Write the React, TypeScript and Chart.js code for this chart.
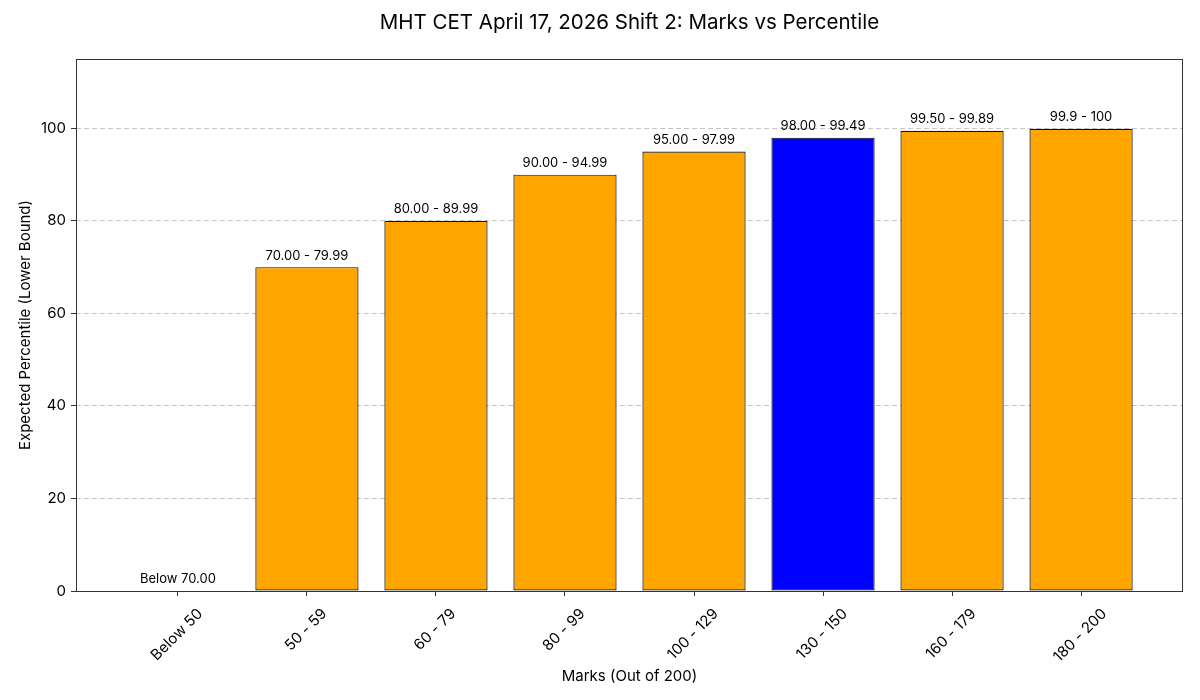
import { useEffect, useRef } from 'react';
import { Chart, registerables } from 'chart.js';

Chart.register(...registerables);

const categories = ['Below 50', '50 - 59', '60 - 79', '80 - 99', '100 - 129', '130 - 150', '160 - 179', '180 - 200'];
const percentiles = [0, 70, 80, 90, 95, 98, 99.5, 99.9];
const rangeLabels = [
  'Below 70.00',
  '70.00 - 79.99',
  '80.00 - 89.99',
  '90.00 - 94.99',
  '95.00 - 97.99',
  '98.00 - 99.49',
  '99.50 - 99.89',
  '99.9 - 100',
];
const highlightIndex = 5;
const yTicks = [0, 20, 40, 60, 80, 100];

const FONT = 'Inter, "Noto Sans", sans-serif';
const TITLE = 'MHT CET April 17, 2026 Shift 2: Marks vs Percentile';

const overlayPlugin = {
  id: 'overlay',
  afterDraw(chart: any) {
    const { ctx, chartArea } = chart;
    const xScale = chart.scales.x;
    const { left, right, top, bottom } = chartArea;
    ctx.save();

    // frame
    ctx.strokeStyle = '#333';
    ctx.lineWidth = 1;
    ctx.strokeRect(left + 0.5, top + 0.5, right - left - 1, bottom - top);

    // value labels above bars
    const meta = chart.getDatasetMeta(0);
    ctx.fillStyle = '#000';
    ctx.font = `13px ${FONT}`;
    ctx.textAlign = 'center';
    ctx.textBaseline = 'bottom';
    meta.data.forEach((el: any, i: number) => {
      ctx.fillText(rangeLabels[i], el.x, el.y - 5);
    });

    // rotated x tick labels, centred on tick like matplotlib
    ctx.font = `15px ${FONT}`;
    ctx.textBaseline = 'middle';
    categories.forEach((label, i) => {
      const px = xScale.getPixelForValue(i);
      const w = ctx.measureText(label).width;
      const h = 15;
      const boxH = (w + h) * Math.SQRT1_2;
      ctx.save();
      ctx.translate(px - 1, bottom + 15 + boxH / 2);
      ctx.rotate(-Math.PI / 4);
      ctx.fillText(label, 0, 0);
      ctx.restore();
    });

    // title and axis titles
    ctx.font = `20.5px ${FONT}`;
    ctx.fillText(TITLE, (left + right) / 2, 23);
    ctx.font = `15px ${FONT}`;
    ctx.fillText('Marks (Out of 200)', (left + right) / 2, 676);
    ctx.save();
    ctx.translate(25, (top + bottom) / 2);
    ctx.rotate(-Math.PI / 2);
    ctx.fillText('Expected Percentile (Lower Bound)', 0, 0);
    ctx.restore();

    ctx.restore();
  },
};

const App: React.FC = () => {
  const canvasRef = useRef<HTMLCanvasElement | null>(null);

  useEffect(() => {
    const canvas = canvasRef.current;
    if (!canvas) return;

    const chart = new Chart(canvas, {
      type: 'bar',
      data: {
        datasets: [
          {
            data: percentiles.map((v, i) => ({ x: i, y: v })),
            backgroundColor: percentiles.map((_, i) => (i === highlightIndex ? '#0000ff' : '#ffa500')),
            borderColor: '#111',
            borderWidth: 1.2,
            borderSkipped: false,
            barPercentage: 0.8,
            categoryPercentage: 1,
          },
        ],
      },
      options: {
        responsive: false,
        animation: false,
        layout: { padding: { top: 59, right: 17, left: 0, bottom: 0 } },
        plugins: {
          legend: { display: false },
          title: { display: false },
          tooltip: { enabled: false },
        },
        scales: {
          x: {
            type: 'linear',
            offset: false,
            min: -0.79,
            max: 7.79,
            afterBuildTicks: (axis: any) => {
              axis.ticks = categories.map((_, i) => ({ value: i }));
            },
            afterFit: (axis: any) => {
              axis.height = 109;
            },
            ticks: {
              color: 'rgba(0,0,0,0)',
              callback: (v: any) => categories[v] ?? '',
              maxRotation: 0,
              autoSkip: false,
              font: { family: FONT, size: 15 },
            },
            grid: {
              offset: false,
              drawOnChartArea: false,
              drawTicks: true,
              tickLength: 5,
              tickColor: '#333',
            },
            border: { display: false },
          },
          y: {
            min: 0,
            max: 115,
            afterBuildTicks: (axis: any) => {
              axis.ticks = yTicks.map((v) => ({ value: v }));
            },
            afterFit: (axis: any) => {
              axis.width = 76;
            },
            ticks: {
              color: '#000',
              padding: 5,
              font: { family: FONT, size: 15 },
            },
            grid: {
              color: '#c4c4c4',
              tickLength: 5,
              tickColor: '#333',
              tickBorderDash: [],
            },
            border: { display: false, dash: [5, 3] },
          },
        },
      },
      plugins: [overlayPlugin],
    });

    return () => {
      chart.destroy();
    };
  }, []);

  return (
    <div style={{ position: 'absolute', left: 0, top: 0, width: 1200, height: 700, background: '#fff' }}>
      <canvas ref={canvasRef} width={1200} height={700} />
    </div>
  );
};

export default App;
